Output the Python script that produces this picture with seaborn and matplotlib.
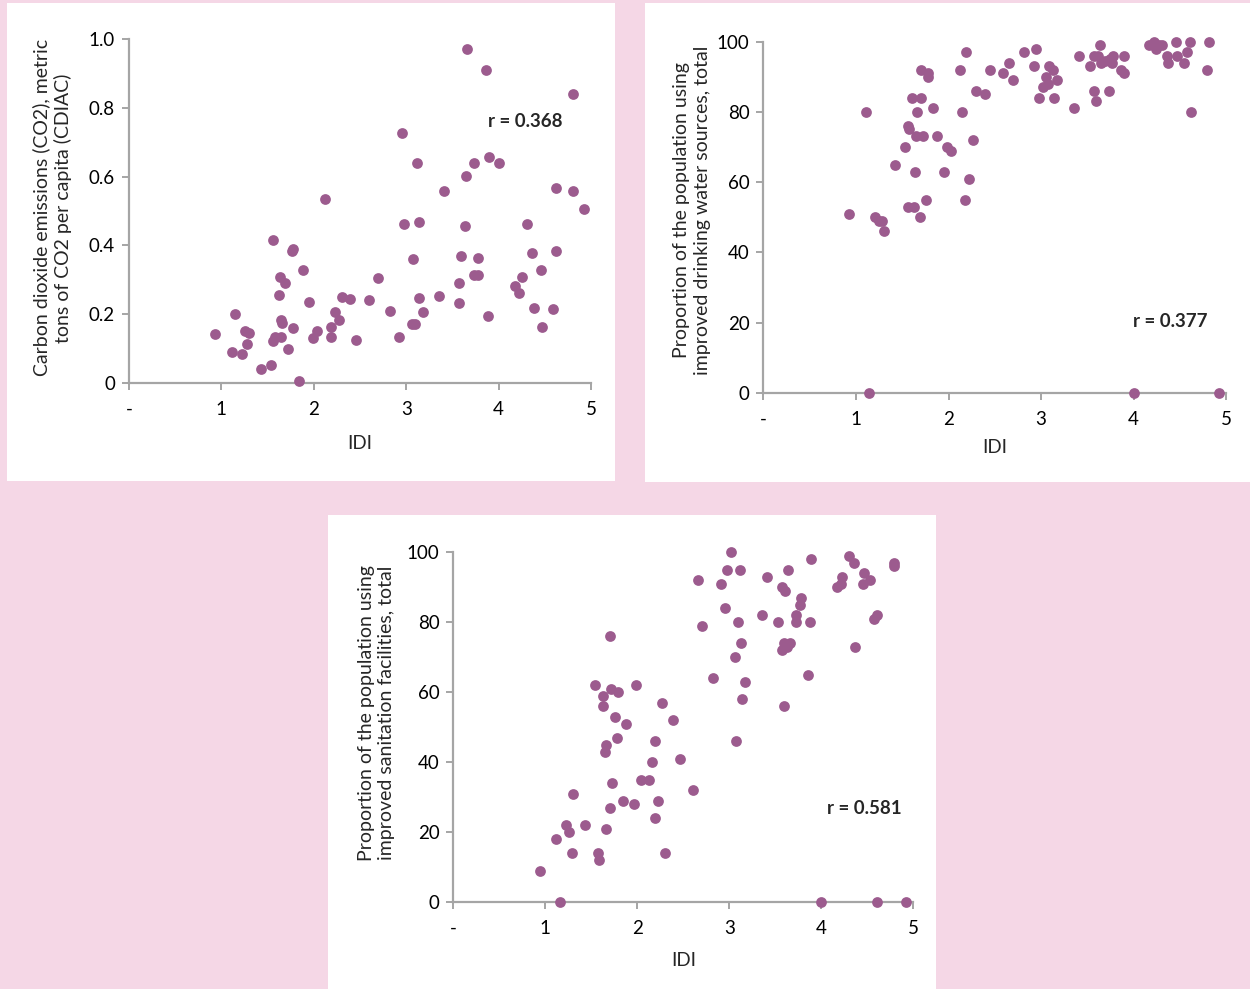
import numpy as np
import pandas as pd
import matplotlib
matplotlib.use("Agg")
import matplotlib.pyplot as plt
from matplotlib.patches import Rectangle
import seaborn as sns

# Panel 1 : CO2 emissions vs IDI
co2_idi = [0.93, 1.15, 1.11, 1.22, 1.25, 1.30, 1.28, 1.43, 1.54, 1.56,
           1.63, 1.69, 1.62, 1.65, 1.66, 1.56, 1.58, 1.64, 1.72, 1.76,
           1.78, 1.78, 1.84, 1.88, 1.95, 1.99, 2.04, 2.12, 2.19, 2.19,
           2.23, 2.27, 2.30, 2.39, 2.46, 2.60, 2.70, 2.83, 2.92, 2.95,
           2.98, 3.06, 3.10, 3.07, 3.12, 3.14, 3.14, 3.18, 3.36, 3.41,
           3.57, 3.57, 3.59, 3.64, 3.65, 3.66, 3.73, 3.73, 3.78, 3.78,
           3.86, 3.89, 3.90, 4.00, 4.18, 4.22, 4.25, 4.31, 4.36, 4.38,
           4.46, 4.47, 4.59, 4.62, 4.62, 4.80, 4.80, 4.92]
co2_val = [0.141, 0.200, 0.091, 0.085, 0.150, 0.146, 0.112, 0.042, 0.053, 0.415,
           0.309, 0.292, 0.255, 0.182, 0.173, 0.123, 0.133, 0.135, 0.099, 0.385,
           0.390, 0.161, 0.006, 0.328, 0.235, 0.132, 0.151, 0.536, 0.163, 0.134,
           0.207, 0.183, 0.251, 0.243, 0.126, 0.240, 0.305, 0.210, 0.135, 0.728,
           0.462, 0.171, 0.172, 0.360, 0.640, 0.468, 0.247, 0.207, 0.253, 0.559,
           0.290, 0.232, 0.370, 0.456, 0.603, 0.972, 0.640, 0.315, 0.315, 0.362,
           0.910, 0.194, 0.657, 0.640, 0.281, 0.263, 0.309, 0.462, 0.379, 0.217,
           0.328, 0.162, 0.215, 0.384, 0.568, 0.840, 0.559, 0.506]

# Panel 2 : improved drinking water vs IDI
water_idi = [0.93, 1.11, 1.145, 1.21, 1.25, 1.285, 1.30, 1.42, 1.53, 1.56,
             1.57, 1.56, 1.63, 1.64, 1.61, 1.70, 1.66, 1.645, 1.72, 1.69,
             1.76, 1.70, 1.775, 1.78, 1.83, 1.88, 1.95, 1.98, 2.03, 2.12,
             2.15, 2.18, 2.19, 2.22, 2.26, 2.30, 2.39, 2.45, 2.59, 2.65,
             2.70, 2.82, 2.92, 2.95, 2.98, 3.02, 3.05, 3.07, 3.09, 3.13,
             3.17, 3.14, 3.35, 3.41, 3.53, 3.57, 3.59, 3.57, 3.61, 3.64,
             3.65, 3.69, 3.73, 3.74, 3.78, 3.77, 3.86, 3.89, 3.90, 4.00,
             4.165, 4.22, 4.24, 4.27, 4.31, 4.36, 4.37, 4.46, 4.47, 4.54,
             4.58, 4.61, 4.62, 4.79, 4.81, 4.92]
water_val = [51, 80, 0, 50, 49, 49, 46, 65, 70, 76,
             75, 53, 53, 63, 84, 84, 80, 73, 73, 50,
             55, 92, 91, 90, 81, 73, 63, 70, 69, 92,
             80, 55, 97, 61, 72, 86, 85, 92, 91, 94,
             89, 97, 93, 98, 84, 87, 90, 88, 93, 92,
             89, 84, 81, 96, 93, 86, 83, 96, 96, 99,
             94, 94.6, 86, 95, 96, 94, 92, 91, 96, 0,
             99, 100, 98, 99, 99, 96, 94, 100, 96, 94,
             97, 100, 80, 92, 100, 0]

# Panel 3 : improved sanitation vs IDI
sanit_idi = [0.94, 1.155, 1.116, 1.22, 1.26, 1.286, 1.30, 1.43, 1.57, 1.58,
             1.54, 1.63, 1.63, 1.645, 1.66, 1.66, 1.70, 1.70, 1.71, 1.72,
             1.76, 1.79, 1.78, 1.84, 1.88, 1.96, 1.99, 2.04, 2.13, 2.16,
             2.19, 2.19, 2.22, 2.27, 2.30, 2.39, 2.46, 2.60, 2.66, 2.70,
             2.82, 2.91, 2.95, 2.98, 3.02, 3.06, 3.07, 3.09, 3.12, 3.13,
             3.14, 3.17, 3.355, 3.41, 3.53, 3.57, 3.60, 3.57, 3.59, 3.59,
             3.64, 3.63, 3.66, 3.72, 3.72, 3.77, 3.78, 3.85, 3.88, 3.89,
             4.00, 4.17, 4.21, 4.23, 4.30, 4.35, 4.37, 4.45, 4.46, 4.53,
             4.57, 4.61, 4.61, 4.79, 4.79, 4.92]
sanit_val = [9, 0, 18, 22, 20, 14, 31, 22, 14, 12,
             62, 59, 56, 43, 45, 21, 27, 76, 61, 34,
             53, 60, 47, 29, 51, 28, 62, 35, 35, 40,
             24, 46, 29, 57, 14, 52, 41, 32, 92, 79,
             64, 91, 84, 95, 100, 70, 46, 80, 95, 74,
             58, 63, 82, 93, 80, 90, 89, 72, 74, 56,
             95, 73, 74, 80, 82, 85, 87, 65, 80, 98,
             0, 90, 91, 93, 99, 97, 73, 91, 94, 92,
             81, 82, 0, 97, 96, 0]

x_ticklabels = ['-', '1', '2', '3', '4', '5']

pink = '#f5d7e6'
dot = '#9c5b8e'
grey = '#a5a5a5'

sns.set_style("ticks")
plt.rcParams['font.family'] = ['Lato', 'DejaVu Sans']

W, H = 1250, 989
fig = plt.figure(figsize=(12.5, 9.89), dpi=100)
fig.patch.set_facecolor(pink)

# white panel backgrounds (pixel boxes: x0, y0 from top, x1, y1)
for x0, y0, x1, y1 in [(7, 3, 615, 481), (645, 3, 1250, 482), (328, 515, 936, 989)]:
    fig.add_artist(Rectangle((x0 / W, 1 - y1 / H), (x1 - x0) / W, (y1 - y0) / H,
                             transform=fig.transFigure, facecolor='white',
                             edgecolor='none', zorder=0))


def draw_panel(box, xs, ys, ymax, yticks, yticklabels, ylabel, label_x, label_y,
               idi_y, r_text, r_pos):
    ax = fig.add_axes(box)
    ax.set_facecolor('none')
    df = pd.DataFrame({'IDI': xs, 'val': ys})
    sns.scatterplot(data=df, x='IDI', y='val', ax=ax, color=dot, s=60,
                    linewidth=0, clip_on=False, zorder=3)
    ax.set_xlim(0, 5)
    ax.set_ylim(0, ymax)
    ax.set_xticks(range(6))
    ax.set_xticklabels(x_ticklabels)
    ax.set_yticks(yticks)
    ax.set_yticklabels(yticklabels)
    for s in ['top', 'right']:
        ax.spines[s].set_visible(False)
    for s in ['left', 'bottom']:
        ax.spines[s].set_color(grey)
        ax.spines[s].set_linewidth(1.6)
    ax.tick_params(axis='both', colors=grey, labelcolor='black', length=5,
                   width=1.4, labelsize=13.5)
    ax.tick_params(axis='x', pad=8)
    ax.tick_params(axis='y', pad=5)
    ax.set_ylabel(ylabel, fontsize=14, linespacing=1.25)
    ax.yaxis.set_label_coords(label_x, label_y)
    ax.set_xlabel('IDI', fontsize=13.5)
    ax.xaxis.set_label_coords(0.5, idi_y)
    ax.text(r_pos[0], r_pos[1], r_text, fontsize=13.5, fontweight='bold',
            ha='center', va='center')
    return ax


draw_panel([129 / W, 1 - 383 / H, 462 / W, 344 / H], co2_idi, co2_val, 1.0,
           [0, 0.2, 0.4, 0.6, 0.8, 1.0], ['0', '0.2', '0.4', '0.6', '0.8', '1.0'],
           'Carbon dioxide emissions (CO2), metric\ntons of CO2 per capita (CDIAC)',
           -0.123, 0.509, -0.15, 'r = 0.368', (4.29, 0.759))

draw_panel([763.3 / W, 1 - 392.7 / H, 463 / W, 351 / H], water_idi, water_val, 100,
           [0, 20, 40, 60, 80, 100], ['0', '20', '40', '60', '80', '100'],
           'Proportion of the population using\nimproved drinking water sources, total',
           -0.114, 0.52, -0.132, 'r = 0.377', (4.39, 20.4))

draw_panel([453.3 / W, 1 - 902 / H, 460 / W, 349.7 / H], sanit_idi, sanit_val, 100,
           [0, 20, 40, 60, 80, 100], ['0', '20', '40', '60', '80', '100'],
           'Proportion of the population using\nimproved sanitation facilities, total',
           -0.126, 0.54, -0.143, 'r = 0.581', (4.47, 26.6))

plt.savefig('out.png', dpi=100, facecolor=fig.get_facecolor())
